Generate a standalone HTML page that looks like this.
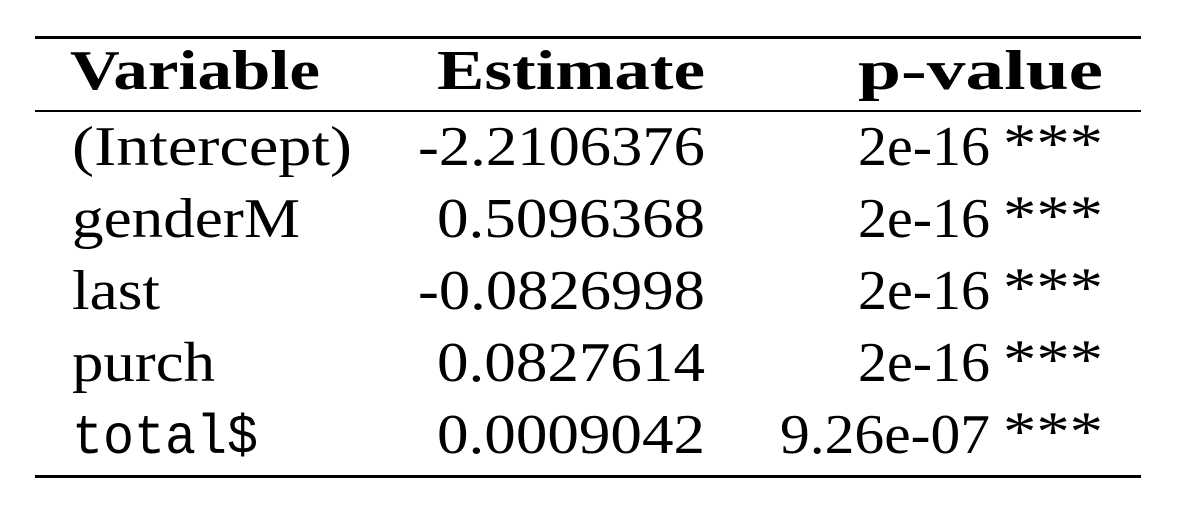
<!DOCTYPE html>
<html><head><meta charset="utf-8"><style>
html,body{margin:0;padding:0;background:#fff;}
svg{display:block}
text{font-family:"Liberation Serif",serif;font-size:56px;fill:#000}
.b{font-weight:bold}
.m{font-family:"Liberation Mono",monospace;font-weight:normal}
</style></head><body>
<svg width="1196" height="515" viewBox="0 0 1196 515">
<rect x="35" y="36" width="1106" height="3" fill="#000"/>
<rect x="35" y="110" width="1106" height="2" fill="#000"/>
<rect x="35" y="475" width="1106" height="3" fill="#000"/>
<g>
<text class="b" x="70" y="89" textLength="250" lengthAdjust="spacingAndGlyphs">Variable</text>
<text class="b" x="437" y="89" textLength="268" lengthAdjust="spacingAndGlyphs">Estimate</text>
<text class="b" x="858" y="89" textLength="245" lengthAdjust="spacingAndGlyphs">p-value</text>
</g>
<g>
<text x="72" y="165" textLength="280" lengthAdjust="spacingAndGlyphs">(Intercept)</text>
<text x="418" y="165" textLength="287" lengthAdjust="spacingAndGlyphs">-2.2106376</text>
<text x="858" y="165" textLength="132" lengthAdjust="spacingAndGlyphs">2e-16</text>
<text x="1003" y="162" textLength="100" lengthAdjust="spacingAndGlyphs">***</text>
</g>
<g>
<text x="72" y="237" textLength="228" lengthAdjust="spacingAndGlyphs">genderM</text>
<text x="437" y="237" textLength="268" lengthAdjust="spacingAndGlyphs">0.5096368</text>
<text x="858" y="237" textLength="132" lengthAdjust="spacingAndGlyphs">2e-16</text>
<text x="1003" y="234" textLength="100" lengthAdjust="spacingAndGlyphs">***</text>
</g>
<g>
<text x="72" y="309" textLength="88" lengthAdjust="spacingAndGlyphs">last</text>
<text x="418" y="309" textLength="287" lengthAdjust="spacingAndGlyphs">-0.0826998</text>
<text x="858" y="309" textLength="132" lengthAdjust="spacingAndGlyphs">2e-16</text>
<text x="1003" y="306" textLength="100" lengthAdjust="spacingAndGlyphs">***</text>
</g>
<g>
<text x="72" y="381" textLength="143" lengthAdjust="spacingAndGlyphs">purch</text>
<text x="437" y="381" textLength="268" lengthAdjust="spacingAndGlyphs">0.0827614</text>
<text x="858" y="381" textLength="132" lengthAdjust="spacingAndGlyphs">2e-16</text>
<text x="1003" y="378" textLength="100" lengthAdjust="spacingAndGlyphs">***</text>
</g>
<g>
<text class="m" x="72" y="453" textLength="186" lengthAdjust="spacingAndGlyphs">total$</text>
<text x="437" y="453" textLength="268" lengthAdjust="spacingAndGlyphs">0.0009042</text>
<text x="780" y="453" textLength="210" lengthAdjust="spacingAndGlyphs">9.26e-07</text>
<text x="1003" y="450" textLength="100" lengthAdjust="spacingAndGlyphs">***</text>
</g>
</svg>
</body></html>
